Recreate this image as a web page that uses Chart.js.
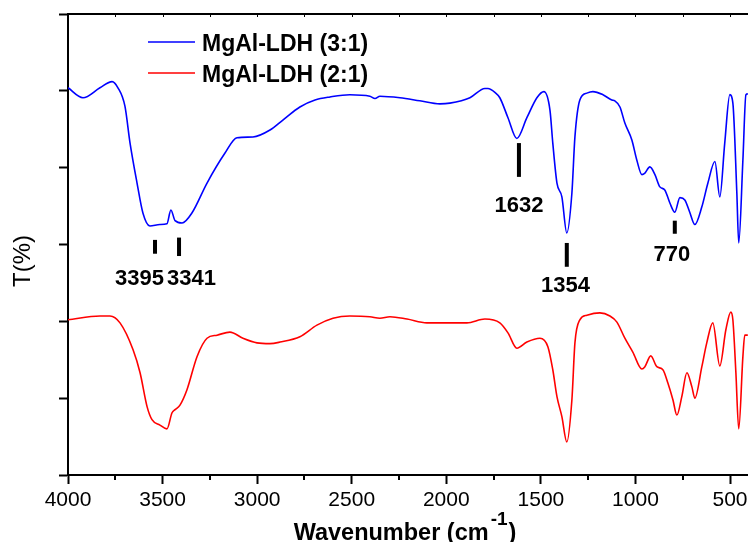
<!DOCTYPE html>
<html><head><meta charset="utf-8">
<script src="https://cdn.jsdelivr.net/npm/chart.js@4/dist/chart.umd.min.js"></script>
<style>html,body{margin:0;padding:0;background:#fff;overflow:hidden}#wrap{width:748px;height:542px;position:relative}</style>
</head><body><div id="wrap"><canvas id="c" width="748" height="542"></canvas></div>
<script>
// ---- data ----
const seriesLabels = ['MgAl-LDH (3:1)', 'MgAl-LDH (2:1)'];
const wavenumberBlue = [4000,3921,3831,3767,3736,3699,3672,3635,3604,3567,3514,3477,3456,3434,3397,3345,3265,3170,3107,3022,2932,2864,2774,2694,2615,2510,2404,2377,2351,2245,2140,2034,1981,1875,1796,1780,1743,1717,1674,1627,1574,1521,1484,1452,1437,1415,1389,1363,1336,1320,1294,1257,1225,1172,1125,1109,1082,1056,1019,993,966,950,924,897,871,845,818,792,765,739,713,686,649,617,580,554,528,501,485,464,454,432,416,406];
const transBlue = [50.4,49.1,50.4,51.2,50.4,48.0,43.2,38.0,34.1,32.4,32.6,32.7,34.5,33.1,32.8,34.1,38.0,41.9,43.9,44.0,44.9,46.2,47.9,48.8,49.2,49.5,49.3,49.0,49.3,49.1,48.7,48.3,48.4,49.1,50.3,50.3,49.8,49.1,46.5,43.8,46.5,49.1,49.9,47.5,43.2,38.0,36.2,31.5,36.7,44.0,48.8,49.7,49.9,49.5,48.8,48.7,47.9,45.8,43.6,41.0,39.1,39.3,40.1,39.1,37.5,37.1,35.4,34.2,36.1,35.8,34.2,32.6,34.9,38.0,40.8,36.2,43.2,49.5,48.4,36.7,30.2,41.0,49.5,49.6];
const wavenumberRed = [4000,3831,3778,3725,3656,3619,3582,3556,3514,3477,3450,3434,3408,3371,3318,3265,3212,3144,3075,3001,2932,2879,2774,2684,2599,2510,2404,2351,2298,2208,2103,1981,1891,1796,1717,1674,1627,1574,1505,1463,1437,1415,1389,1363,1336,1320,1294,1257,1188,1135,1098,1056,1014,966,950,919,887,855,829,802,781,755,728,702,686,649,623,591,554,522,496,485,469,454,432,422,406];
const transRed = [20.2,20.7,20.7,19.8,16.3,13.3,8.9,7.2,6.5,6.0,8.1,8.5,9.1,11.1,15.4,17.8,18.2,18.6,17.8,17.2,17.1,17.3,18.0,19.5,20.4,20.7,20.6,20.4,20.6,20.3,19.8,19.8,19.8,20.3,19.8,18.5,16.5,17.3,17.8,16.7,13.7,10.2,7.6,4.3,9.8,17.2,20.2,20.8,21.1,20.7,19.9,17.8,16.0,13.8,14.1,15.5,14.1,13.7,12.0,9.8,7.8,10.2,13.3,11.5,10.0,14.1,17.2,19.8,14.2,18.9,21.2,20.2,13.3,6.0,15.4,18.2,18.2];
const xMajorTicks = [4000,3500,3000,2500,2000,1500,1000,500];
const xMinorTicks = [3750,3250,2750,2250,1750,1250,750];
const yTicks = [0,10,20,30,40,50,60];
const peakLabels = ['3395','3341','1632','1354','770'];
const peakMarkX = [3540,3413,1616,1363,792];
const peakMarkTop = [30.6,30.9,43.2,30.2,33.1];
const peakMarkBottom = [28.8,28.5,38.8,27.1,31.4];
const peakLabelX = [3622,3347,1616,1370,808];
const peakLabelY = [24.7,24.7,34.2,23.8,27.9];
const xTitleMain = 'Wavenumber (cm';
const xTitleSup = '-1';
const xTitleEnd = ')';
const yTitle = 'T(%)';

const FONT = "'Liberation Sans', Arial, Helvetica, sans-serif";

const extras = {
  id: 'extras',
  afterDatasetsDraw(chart) {
    const ctx = chart.ctx, xs = chart.scales.x, ys = chart.scales.y, ca = chart.chartArea;
    ctx.save();
    // top frame
    ctx.strokeStyle = '#000'; ctx.lineWidth = 2;
    ctx.beginPath(); ctx.moveTo(ca.left - 1, ca.top); ctx.lineTo(ca.right, ca.top); ctx.stroke();
    // minor ticks bottom + small ticks top
    ctx.lineWidth = 2;
    xMinorTicks.forEach(v => {
      const px = Math.round(xs.getPixelForValue(v));
      ctx.beginPath(); ctx.moveTo(px, ca.bottom); ctx.lineTo(px, ca.bottom + 5); ctx.stroke();
    });
    ctx.lineWidth = 1;
    xMajorTicks.concat(xMinorTicks).forEach(v => {
      const px = Math.round(xs.getPixelForValue(v)) + 0.5;
      ctx.beginPath(); ctx.moveTo(px, ca.top); ctx.lineTo(px, ca.top + 3); ctx.stroke();
    });
    // peak markers
    ctx.fillStyle = '#000';
    peakMarkX.forEach((v, i) => {
      const px = xs.getPixelForValue(v);
      const t = ys.getPixelForValue(peakMarkTop[i]);
      const b = ys.getPixelForValue(peakMarkBottom[i]);
      ctx.fillRect(px - 2, t, 4, b - t);
    });
    ctx.font = 'bold 22px ' + FONT;
    ctx.textAlign = 'center'; ctx.textBaseline = 'alphabetic';
    peakLabels.forEach((s, i) => {
      ctx.fillText(s, xs.getPixelForValue(peakLabelX[i]), ys.getPixelForValue(peakLabelY[i]));
    });
    // legend
    ctx.textAlign = 'left';
    ctx.font = 'bold 23px ' + FONT;
    chart.data.datasets.forEach((ds, i) => {
      const y = 42 + i * 31;
      ctx.strokeStyle = ds.borderColor; ctx.lineWidth = 1.5;
      ctx.beginPath(); ctx.moveTo(148, y); ctx.lineTo(195, y); ctx.stroke();
      ctx.fillStyle = '#000';
      ctx.fillText(ds.label, 202, y + 9);
    });
    // x title
    ctx.font = 'bold 23.5px ' + FONT;
    const w1 = ctx.measureText(xTitleMain).width;
    ctx.font = 'bold 19px ' + FONT;
    const w2 = ctx.measureText(xTitleSup).width;
    ctx.font = 'bold 23.5px ' + FONT;
    const w3 = ctx.measureText(xTitleEnd).width;
    const total = w1 + 2 + w2 + 1 + w3;
    let x0 = (ca.left + ca.right) / 2 - total / 2 - 3;
    ctx.fillText(xTitleMain, x0, 540);
    ctx.font = 'bold 19px ' + FONT;
    ctx.fillText(xTitleSup, x0 + w1 + 2, 525);
    ctx.font = 'bold 23.5px ' + FONT;
    ctx.fillText(xTitleEnd, x0 + w1 + 2 + w2 + 1, 540);
    // y title
    ctx.save();
    ctx.translate(30, 261);
    ctx.rotate(-Math.PI / 2);
    ctx.font = '24px ' + FONT;
    ctx.textAlign = 'center';
    ctx.fillText(yTitle, 0, 0);
    ctx.restore();
    ctx.restore();
  }
};

new Chart(document.getElementById('c'), {
  type: 'line',
  data: {
    datasets: [
      { label: seriesLabels[0], data: wavenumberBlue.map((x, i) => ({x, y: transBlue[i]})), borderColor: '#0000ff', borderWidth: 1.6, pointRadius: 0, fill: false, cubicInterpolationMode: 'monotone' },
      { label: seriesLabels[1], data: wavenumberRed.map((x, i) => ({x, y: transRed[i]})), borderColor: '#ff0000', borderWidth: 1.6, pointRadius: 0, fill: false, cubicInterpolationMode: 'monotone' }
    ]
  },
  options: {
    responsive: false,
    animation: false,
    devicePixelRatio: 1,
    layout: { padding: { top: 14, left: 0, right: 0, bottom: 0 } },
    plugins: { legend: { display: false }, tooltip: { enabled: false } },
    scales: {
      x: {
        type: 'linear', reverse: true, min: 405, max: 4000,
        afterBuildTicks: s => { s.ticks = xMajorTicks.map(v => ({ value: v })); },
        afterFit: s => { s.height = 67; s.paddingLeft = 0; s.paddingRight = 0; },
        ticks: { color: '#000', font: { family: FONT, size: 21 }, padding: 4, maxRotation: 0, autoSkip: false, callback: v => String(v) },
        grid: { drawOnChartArea: false, drawTicks: true, tickLength: 9, tickWidth: 2, tickColor: '#000' },
        border: { display: true, color: '#000', width: 2 }
      },
      y: {
        type: 'linear', min: 0, max: 60,
        afterBuildTicks: s => { s.ticks = yTicks.map(v => ({ value: v })); },
        afterFit: s => { s.width = 68; s.paddingTop = 0; s.paddingBottom = 0; },
        ticks: { display: false },
        grid: { drawOnChartArea: false, drawTicks: true, tickLength: 9, tickWidth: 2, tickColor: '#000' },
        border: { display: true, color: '#000', width: 2 }
      }
    }
  },
  plugins: [extras]
});
</script></body></html>
